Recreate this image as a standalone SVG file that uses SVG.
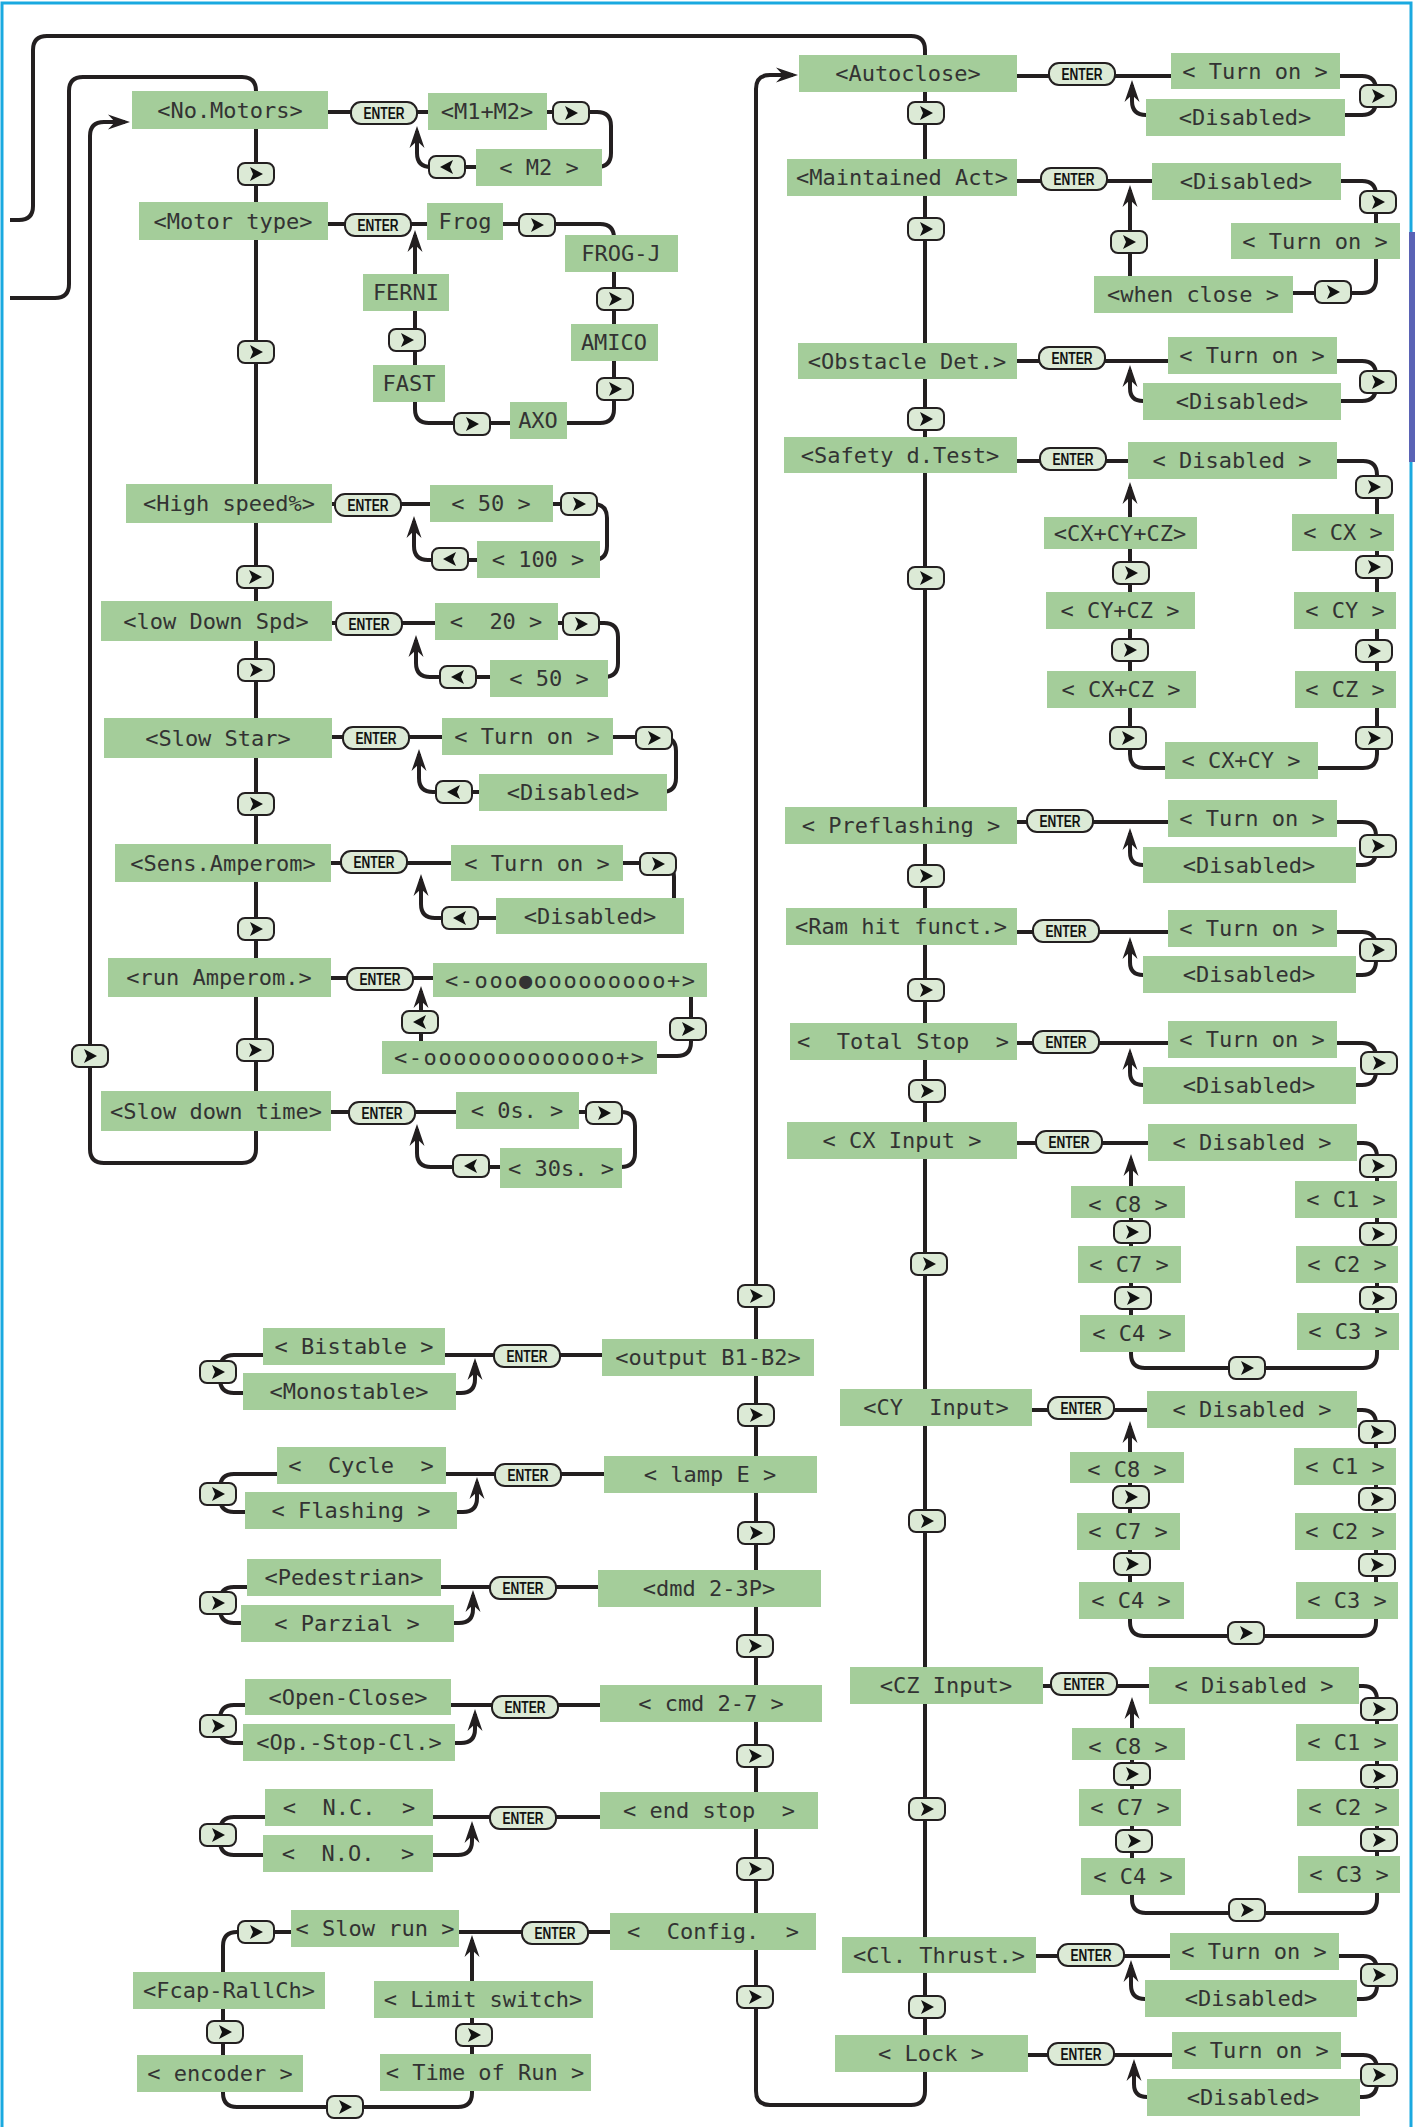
<svg xmlns="http://www.w3.org/2000/svg" width="1415" height="2127" viewBox="0 0 1415 2127">
<style>
.bx{fill:#a4cd9a}
.t{font-family:"DejaVu Sans Mono","Liberation Mono",monospace;font-size:22px;fill:#333333;text-anchor:middle;white-space:pre}
.btn{fill:#dcead6;stroke:#231f20;stroke-width:2}
.chev{fill:#111}
.et{font-family:"Liberation Sans",Arial,sans-serif;font-weight:bold;font-size:16px;fill:#111}
.ln{fill:none;stroke:#231f20;stroke-width:4;stroke-linejoin:round}
.ar{marker-end:url(#ah)}
.frame{fill:none;stroke:#1aa9e0;stroke-width:3}
</style>
<defs>
<marker id="ah" markerUnits="userSpaceOnUse" markerWidth="30" markerHeight="20" viewBox="-20 -10 30 20" refX="0" refY="0" orient="auto">
<path d="M5,0 L-17,-7.5 L-10,0 L-17,7.5 Z" fill="#231f20"/>
</marker>
<g id="bR"><rect x="-18" y="-11" width="36" height="22" rx="7" class="btn"/><path d="M-6,-7 L7,0 L-6,7 L-3,0 Z" class="chev"/></g>
<g id="bL"><rect x="-18" y="-11" width="36" height="22" rx="7" class="btn"/><path d="M6,-7 L-7,0 L6,7 L3,0 Z" class="chev"/></g>
<g id="bE"><rect x="-33" y="-11" width="66" height="22" rx="10" class="btn"/><text x="-20.5" y="6" class="et" textLength="41" lengthAdjust="spacingAndGlyphs">ENTER</text></g>
</defs>
<rect width="1415" height="2127" fill="#ffffff"/>
<path class="frame" d="M2,2127 V3 H1411 V2127"/>
<rect x="1409" y="232" width="6" height="230" fill="#5a63b5"/>

<g id="connectors">
<path class="ln ar" d="M10,220 H19 Q33,220 33,206 V50 Q33,36 47,36 H911 Q925,36 925,50 V2091 Q925,2105 911,2105 H770 Q756,2105 756,2091 V89 Q756,75 770,75 H793"/>
<path class="ln ar" d="M10,298 H55 Q69,298 69,284 V91 Q69,77 83,77 H242 Q256,77 256,91 V1149 Q256,1163 242,1163 H104 Q90,1163 90,1149 V136 Q90,122 104,122 H125"/>

<path class="ln" d="M328,112 H428"/>
<path class="ln" d="M547,112 H597 Q611,112 611,126 V153 Q611,167 597,167 H602"/>
<path class="ln ar" d="M476,167 H431 Q417,167 417,153 V131"/>
<path class="ln" d="M328,224 H427"/>
<path class="ln" d="M503,224 H600 Q614,224 614,238 V409 Q614,423 600,423 H567"/>
<path class="ln ar" d="M510,423 H429 Q415,423 415,409 V235"/>
<path class="ln" d="M332,504 H430"/>
<path class="ln" d="M553,504 H593 Q607,504 607,518 V546 Q607,560 593,560 H600"/>
<path class="ln ar" d="M477,560 H428 Q414,560 414,546 V521"/>
<path class="ln" d="M332,623 H435"/>
<path class="ln" d="M558,623 H604 Q618,623 618,637 V663 Q618,677 604,677 H608"/>
<path class="ln ar" d="M490,677 H430 Q416,677 416,663 V640"/>
<path class="ln" d="M332,737 H442"/>
<path class="ln" d="M613,737 H662 Q676,737 676,751 V778 Q676,792 662,792 H667"/>
<path class="ln ar" d="M479,792 H433 Q419,792 419,778 V754"/>
<path class="ln" d="M331,863 H451"/>
<path class="ln" d="M623,863 H660 Q674,863 674,877 V898"/>
<path class="ln ar" d="M496,918 H435 Q421,918 421,904 V879"/>
<path class="ln" d="M331,978 H433"/>
<path class="ln" d="M691,997 V1042 Q691,1056 677,1056 H657"/>
<path class="ln ar" d="M421,1041 V991"/>
<path class="ln" d="M331,1112 H456"/>
<path class="ln" d="M579,1112 H621 Q635,1112 635,1126 V1153 Q635,1167 621,1167 H622"/>
<path class="ln ar" d="M500,1167 H431 Q417,1167 417,1153 V1129"/>

<path class="ln" d="M1017,76 H1171"/>
<path class="ln" d="M1340,76 H1362 Q1376,76 1376,90 V101 Q1376,115 1362,115 H1345"/>
<path class="ln ar" d="M1146,115 Q1132,115 1132,101 V85"/>
<path class="ln" d="M1017,181 H1152"/>
<path class="ln" d="M1341,181 H1362 Q1376,181 1376,195 V279 Q1376,293 1362,293 H1293"/>
<path class="ln ar" d="M1130,276 V190"/>
<path class="ln" d="M1017,361 H1168"/>
<path class="ln" d="M1337,361 H1362 Q1376,361 1376,375 V387 Q1376,401 1362,401 H1341"/>
<path class="ln ar" d="M1143,401 Q1130,401 1130,388 V370"/>
<path class="ln" d="M1017,461 H1128"/>
<path class="ln" d="M1337,461 H1363 Q1377,461 1377,475 V754 Q1377,768 1363,768 H1318"/>
<path class="ln ar" d="M1165,768 H1144 Q1130,768 1130,754 V487"/>
<path class="ln" d="M1017,822 H1168"/>
<path class="ln" d="M1337,822 H1362 Q1376,822 1376,836 V851 Q1376,865 1362,865 H1356"/>
<path class="ln ar" d="M1143,865 Q1130,865 1130,852 V833"/>
<path class="ln" d="M1017,932 H1168"/>
<path class="ln" d="M1337,932 H1362 Q1376,932 1376,946 V961 Q1376,975 1362,975 H1356"/>
<path class="ln ar" d="M1143,975 Q1130,975 1130,962 V942"/>
<path class="ln" d="M1017,1043 H1168"/>
<path class="ln" d="M1337,1043 H1362 Q1376,1043 1376,1057 V1071 Q1376,1085 1362,1085 H1356"/>
<path class="ln ar" d="M1143,1085 Q1130,1085 1130,1072 V1053"/>
<path class="ln" d="M1017,1143 H1148"/>
<path class="ln ar" d="M1357,1143 H1363 Q1377,1143 1377,1157 V1354 Q1377,1368 1363,1368 H1145 Q1131,1368 1131,1354 V1159"/>
<path class="ln" d="M1032,1410 H1147"/>
<path class="ln ar" d="M1357,1410 H1362 Q1376,1410 1376,1424 V1622 Q1376,1636 1362,1636 H1144 Q1130,1636 1130,1622 V1426"/>
<path class="ln" d="M1043,1686 H1149"/>
<path class="ln ar" d="M1359,1686 H1363 Q1377,1686 1377,1700 V1899 Q1377,1913 1363,1913 H1146 Q1132,1913 1132,1899 V1702"/>
<path class="ln" d="M1036,1956 H1170"/>
<path class="ln" d="M1339,1956 H1363 Q1377,1956 1377,1970 V1985 Q1377,1999 1363,1999 H1357"/>
<path class="ln ar" d="M1145,1999 Q1131,1999 1131,1985 V1965"/>
<path class="ln" d="M1028,2055 H1172"/>
<path class="ln" d="M1341,2055 H1363 Q1377,2055 1377,2069 V2083 Q1377,2097 1363,2097 H1360"/>
<path class="ln ar" d="M1147,2097 Q1134,2097 1134,2084 V2064"/>

<path class="ln" d="M602,1355 H445"/>
<path class="ln" d="M263,1355 H234 Q220,1355 220,1369 V1379 Q220,1393 234,1393 H243"/>
<path class="ln ar" d="M456,1393 H461 Q475,1393 475,1379 V1363"/>
<path class="ln" d="M604,1474 H446"/>
<path class="ln" d="M277,1474 H234 Q220,1474 220,1488 V1498 Q220,1512 234,1512 H245"/>
<path class="ln ar" d="M457,1512 H463 Q477,1512 477,1498 V1482"/>
<path class="ln" d="M598,1587 H441"/>
<path class="ln" d="M247,1587 H234 Q220,1587 220,1601 V1609 Q220,1623 234,1623 H241"/>
<path class="ln ar" d="M454,1623 H459 Q473,1623 473,1609 V1595"/>
<path class="ln" d="M600,1705 H451"/>
<path class="ln" d="M245,1705 H234 Q220,1705 220,1719 V1729 Q220,1743 234,1743 H243"/>
<path class="ln ar" d="M455,1743 H461 Q475,1743 475,1729 V1714"/>
<path class="ln" d="M600,1817 H433"/>
<path class="ln" d="M265,1817 H234 Q220,1817 220,1831 V1841 Q220,1855 234,1855 H263"/>
<path class="ln ar" d="M433,1855 H458 Q472,1855 472,1841 V1826"/>
<path class="ln" d="M610,1932 H459"/>
<path class="ln ar" d="M291,1932 H237 Q223,1932 223,1946 V2093 Q223,2107 237,2107 H458 Q472,2107 472,2093 V1940"/>
</g>

<g id="keys">
<use href="#bR" x="256" y="174"/><use href="#bR" x="256" y="352"/><use href="#bR" x="255" y="577"/><use href="#bR" x="256" y="670"/><use href="#bR" x="256" y="804"/><use href="#bR" x="256" y="929"/><use href="#bR" x="255" y="1050"/><use href="#bR" x="90" y="1056"/>
<use href="#bR" x="571" y="113"/><use href="#bL" x="447" y="167"/>
<use href="#bR" x="537" y="225"/><use href="#bR" x="615" y="299"/><use href="#bR" x="615" y="389"/><use href="#bR" x="472" y="424"/><use href="#bR" x="407" y="340"/>
<use href="#bR" x="579" y="504"/><use href="#bL" x="450" y="559"/>
<use href="#bR" x="581" y="624"/><use href="#bL" x="458" y="677"/>
<use href="#bR" x="654" y="738"/><use href="#bL" x="454" y="792"/>
<use href="#bR" x="658" y="864"/><use href="#bL" x="460" y="918"/>
<use href="#bR" x="688" y="1029"/><use href="#bL" x="420" y="1022"/>
<use href="#bR" x="604" y="1113"/><use href="#bL" x="471" y="1166"/>
<use href="#bE" x="384" y="113"/><use href="#bE" x="378" y="225"/><use href="#bE" x="368" y="505"/><use href="#bE" x="369" y="624"/><use href="#bE" x="376" y="738"/><use href="#bE" x="374" y="862"/><use href="#bE" x="380" y="979"/><use href="#bE" x="382" y="1113"/>

<use href="#bE" x="1082" y="74"/><use href="#bE" x="1074" y="179"/><use href="#bE" x="1072" y="358"/><use href="#bE" x="1073" y="459"/><use href="#bE" x="1060" y="821"/><use href="#bE" x="1066" y="931"/><use href="#bE" x="1066" y="1042"/><use href="#bE" x="1069" y="1142"/><use href="#bE" x="1081" y="1408"/><use href="#bE" x="1084" y="1684"/><use href="#bE" x="1091" y="1955"/><use href="#bE" x="1081" y="2054"/>
<use href="#bR" x="926" y="113"/><use href="#bR" x="926" y="229"/><use href="#bR" x="926" y="419"/><use href="#bR" x="926" y="578"/><use href="#bR" x="926" y="876"/><use href="#bR" x="926" y="990"/><use href="#bR" x="927" y="1091"/><use href="#bR" x="929" y="1264"/><use href="#bR" x="927" y="1521"/><use href="#bR" x="927" y="1809"/><use href="#bR" x="927" y="2007"/>
<use href="#bR" x="1378" y="96"/><use href="#bR" x="1378" y="202"/><use href="#bR" x="1333" y="292"/><use href="#bR" x="1129" y="242"/><use href="#bR" x="1378" y="382"/>
<use href="#bR" x="1374" y="487"/><use href="#bR" x="1374" y="567"/><use href="#bR" x="1374" y="651"/><use href="#bR" x="1374" y="738"/><use href="#bR" x="1131" y="573"/><use href="#bR" x="1130" y="650"/><use href="#bR" x="1128" y="738"/>
<use href="#bR" x="1378" y="846"/><use href="#bR" x="1378" y="950"/><use href="#bR" x="1379" y="1063"/>
<use href="#bR" x="1378" y="1166"/><use href="#bR" x="1378" y="1234"/><use href="#bR" x="1378" y="1298"/><use href="#bR" x="1132" y="1232"/><use href="#bR" x="1133" y="1298"/><use href="#bR" x="1247" y="1368"/>
<use href="#bR" x="1377" y="1432"/><use href="#bR" x="1377" y="1499"/><use href="#bR" x="1377" y="1565"/><use href="#bR" x="1131" y="1497"/><use href="#bR" x="1132" y="1564"/><use href="#bR" x="1246" y="1633"/>
<use href="#bR" x="1379" y="1709"/><use href="#bR" x="1379" y="1776"/><use href="#bR" x="1379" y="1840"/><use href="#bR" x="1132" y="1774"/><use href="#bR" x="1134" y="1841"/><use href="#bR" x="1247" y="1910"/>
<use href="#bR" x="1379" y="1975"/><use href="#bR" x="1379" y="2075"/>

<use href="#bR" x="756" y="1296"/><use href="#bR" x="756" y="1415"/><use href="#bR" x="756" y="1533"/><use href="#bR" x="755" y="1646"/><use href="#bR" x="755" y="1756"/><use href="#bR" x="755" y="1869"/><use href="#bR" x="755" y="1997"/>
<use href="#bE" x="527" y="1356"/><use href="#bE" x="528" y="1475"/><use href="#bE" x="523" y="1588"/><use href="#bE" x="525" y="1707"/><use href="#bE" x="523" y="1818"/><use href="#bE" x="555" y="1933"/>
<use href="#bR" x="218" y="1372"/><use href="#bR" x="218" y="1494"/><use href="#bR" x="218" y="1603"/><use href="#bR" x="218" y="1726"/><use href="#bR" x="218" y="1835"/>
<use href="#bR" x="256" y="1932"/><use href="#bR" x="225" y="2032"/><use href="#bR" x="345" y="2107"/><use href="#bR" x="474" y="2035"/>
</g>

<g id="n-no-motors"><rect class="bx" x="132" y="91" width="196" height="38"/><text class="t" x="230" y="118">&lt;No.Motors&gt;</text></g>
<g id="n-m1m2"><rect class="bx" x="428" y="93" width="119" height="37"/><text class="t" x="487" y="119">&lt;M1+M2&gt;</text></g>
<g id="n-m2"><rect class="bx" x="476" y="149" width="126" height="37"/><text class="t" x="539" y="175">&lt; M2 &gt;</text></g>
<g id="n-motor-type"><rect class="bx" x="139" y="202" width="189" height="38"/><text class="t" x="233" y="229">&lt;Motor type&gt;</text></g>
<g id="n-frog"><rect class="bx" x="427" y="203" width="76" height="37"/><text class="t" x="465" y="229">Frog</text></g>
<g id="n-frog-j"><rect class="bx" x="565" y="235" width="113" height="37"/><text class="t" x="621" y="261">FROG-J</text></g>
<g id="n-amico"><rect class="bx" x="571" y="324" width="87" height="37"/><text class="t" x="614" y="350">AMICO</text></g>
<g id="n-axo"><rect class="bx" x="510" y="402" width="57" height="37"/><text class="t" x="538" y="428">AXO</text></g>
<g id="n-fast"><rect class="bx" x="373" y="365" width="72" height="37"/><text class="t" x="409" y="391">FAST</text></g>
<g id="n-ferni"><rect class="bx" x="363" y="274" width="86" height="37"/><text class="t" x="406" y="300">FERNI</text></g>
<g id="n-high-speed"><rect class="bx" x="126" y="484" width="206" height="39"/><text class="t" x="229" y="511">&lt;High speed%&gt;</text></g>
<g id="n-hs-50"><rect class="bx" x="430" y="485" width="123" height="37"/><text class="t" x="491" y="511">&lt; 50 &gt;</text></g>
<g id="n-hs-100"><rect class="bx" x="477" y="541" width="123" height="37"/><text class="t" x="538" y="567">&lt; 100 &gt;</text></g>
<g id="n-low-down"><rect class="bx" x="101" y="601" width="231" height="40"/><text class="t" x="216" y="629">&lt;low Down Spd&gt;</text></g>
<g id="n-ld-20"><rect class="bx" x="435" y="603" width="123" height="37"/><text class="t" x="496" y="629">&lt;  20 &gt;</text></g>
<g id="n-ld-50"><rect class="bx" x="490" y="660" width="118" height="37"/><text class="t" x="549" y="686">&lt; 50 &gt;</text></g>
<g id="n-slow-star"><rect class="bx" x="104" y="718" width="228" height="40"/><text class="t" x="218" y="746">&lt;Slow Star&gt;</text></g>
<g id="n-ss-on"><rect class="bx" x="442" y="718" width="171" height="37"/><text class="t" x="527" y="744">&lt; Turn on &gt;</text></g>
<g id="n-ss-dis"><rect class="bx" x="479" y="774" width="188" height="37"/><text class="t" x="573" y="800">&lt;Disabled&gt;</text></g>
<g id="n-sens"><rect class="bx" x="115" y="844" width="216" height="38"/><text class="t" x="223" y="871">&lt;Sens.Amperom&gt;</text></g>
<g id="n-se-on"><rect class="bx" x="451" y="845" width="172" height="36"/><text class="t" x="537" y="871">&lt; Turn on &gt;</text></g>
<g id="n-se-dis"><rect class="bx" x="496" y="898" width="188" height="36"/><text class="t" x="590" y="924">&lt;Disabled&gt;</text></g>
<g id="n-run-amp"><rect class="bx" x="108" y="958" width="223" height="39"/><text class="t" x="219" y="985">&lt;run Amperom.&gt;</text></g>
<g id="n-ra-1"><rect class="bx" x="433" y="963" width="274" height="34"/><text class="t" x="570" y="988" textLength="250" lengthAdjust="spacing">&lt;-ooo●ooooooooo+&gt;</text></g>
<g id="n-ra-2"><rect class="bx" x="382" y="1041" width="275" height="33"/><text class="t" x="519" y="1065" textLength="250" lengthAdjust="spacing">&lt;-ooooooooooooo+&gt;</text></g>
<g id="n-slow-down"><rect class="bx" x="101" y="1091" width="230" height="40"/><text class="t" x="216" y="1119">&lt;Slow down time&gt;</text></g>
<g id="n-sd-0"><rect class="bx" x="456" y="1092" width="123" height="37"/><text class="t" x="517" y="1118">&lt; 0s. &gt;</text></g>
<g id="n-sd-30"><rect class="bx" x="500" y="1148" width="122" height="40"/><text class="t" x="561" y="1176">&lt; 30s. &gt;</text></g>

<g id="n-autoclose"><rect class="bx" x="799" y="55" width="218" height="37"/><text class="t" x="908" y="81">&lt;Autoclose&gt;</text></g>
<g id="n-ac-on"><rect class="bx" x="1171" y="53" width="169" height="36"/><text class="t" x="1255" y="79">&lt; Turn on &gt;</text></g>
<g id="n-ac-dis"><rect class="bx" x="1146" y="99" width="199" height="37"/><text class="t" x="1245" y="125">&lt;Disabled&gt;</text></g>
<g id="n-maint"><rect class="bx" x="787" y="159" width="230" height="37"/><text class="t" x="902" y="185">&lt;Maintained Act&gt;</text></g>
<g id="n-ma-dis"><rect class="bx" x="1152" y="163" width="189" height="37"/><text class="t" x="1246" y="189">&lt;Disabled&gt;</text></g>
<g id="n-ma-on"><rect class="bx" x="1231" y="223" width="169" height="36"/><text class="t" x="1315" y="249">&lt; Turn on &gt;</text></g>
<g id="n-ma-when"><rect class="bx" x="1094" y="276" width="199" height="37"/><text class="t" x="1193" y="302">&lt;when close &gt;</text></g>
<g id="n-obstacle"><rect class="bx" x="798" y="343" width="219" height="36"/><text class="t" x="907" y="369">&lt;Obstacle Det.&gt;</text></g>
<g id="n-ob-on"><rect class="bx" x="1168" y="337" width="169" height="37"/><text class="t" x="1252" y="363">&lt; Turn on &gt;</text></g>
<g id="n-ob-dis"><rect class="bx" x="1143" y="383" width="198" height="37"/><text class="t" x="1242" y="409">&lt;Disabled&gt;</text></g>
<g id="n-safety"><rect class="bx" x="784" y="437" width="233" height="36"/><text class="t" x="900" y="463">&lt;Safety d.Test&gt;</text></g>
<g id="n-sa-dis"><rect class="bx" x="1128" y="442" width="209" height="37"/><text class="t" x="1232" y="468">&lt; Disabled &gt;</text></g>
<g id="n-cxcycz"><rect class="bx" x="1044" y="517" width="153" height="32"/><text class="t" x="1120" y="541">&lt;CX+CY+CZ&gt;</text></g>
<g id="n-cycz"><rect class="bx" x="1046" y="592" width="149" height="37"/><text class="t" x="1120" y="618">&lt; CY+CZ &gt;</text></g>
<g id="n-cxcz"><rect class="bx" x="1047" y="671" width="149" height="37"/><text class="t" x="1121" y="697">&lt; CX+CZ &gt;</text></g>
<g id="n-cxcy"><rect class="bx" x="1165" y="742" width="153" height="37"/><text class="t" x="1241" y="768">&lt; CX+CY &gt;</text></g>
<g id="n-cx"><rect class="bx" x="1292" y="514" width="102" height="37"/><text class="t" x="1343" y="540">&lt; CX &gt;</text></g>
<g id="n-cy"><rect class="bx" x="1294" y="592" width="102" height="37"/><text class="t" x="1345" y="618">&lt; CY &gt;</text></g>
<g id="n-cz"><rect class="bx" x="1295" y="671" width="101" height="37"/><text class="t" x="1345" y="697">&lt; CZ &gt;</text></g>
<g id="n-preflashing"><rect class="bx" x="785" y="807" width="232" height="37"/><text class="t" x="901" y="833">&lt; Preflashing &gt;</text></g>
<g id="n-pr-on"><rect class="bx" x="1168" y="800" width="169" height="37"/><text class="t" x="1252" y="826">&lt; Turn on &gt;</text></g>
<g id="n-pr-dis"><rect class="bx" x="1143" y="847" width="213" height="36"/><text class="t" x="1249" y="873">&lt;Disabled&gt;</text></g>
<g id="n-ram"><rect class="bx" x="786" y="908" width="231" height="37"/><text class="t" x="901" y="934">&lt;Ram hit funct.&gt;</text></g>
<g id="n-ram-on"><rect class="bx" x="1168" y="910" width="169" height="37"/><text class="t" x="1252" y="936">&lt; Turn on &gt;</text></g>
<g id="n-ram-dis"><rect class="bx" x="1143" y="956" width="213" height="37"/><text class="t" x="1249" y="982">&lt;Disabled&gt;</text></g>
<g id="n-total"><rect class="bx" x="790" y="1023" width="227" height="37"/><text class="t" x="903" y="1049">&lt;  Total Stop  &gt;</text></g>
<g id="n-to-on"><rect class="bx" x="1168" y="1021" width="169" height="37"/><text class="t" x="1252" y="1047">&lt; Turn on &gt;</text></g>
<g id="n-to-dis"><rect class="bx" x="1143" y="1067" width="213" height="37"/><text class="t" x="1249" y="1093">&lt;Disabled&gt;</text></g>
<g id="n-cx-in"><rect class="bx" x="787" y="1122" width="230" height="37"/><text class="t" x="902" y="1148">&lt; CX Input &gt;</text></g>
<g id="n-cx-dis"><rect class="bx" x="1148" y="1124" width="209" height="37"/><text class="t" x="1252" y="1150">&lt; Disabled &gt;</text></g>
<g id="n-cx-c8"><rect class="bx" x="1071" y="1186" width="114" height="32"/><text class="t" x="1128" y="1212">&lt; C8 &gt;</text></g>
<g id="n-cx-c7"><rect class="bx" x="1078" y="1246" width="103" height="37"/><text class="t" x="1129" y="1272">&lt; C7 &gt;</text></g>
<g id="n-cx-c4"><rect class="bx" x="1080" y="1315" width="105" height="37"/><text class="t" x="1132" y="1341">&lt; C4 &gt;</text></g>
<g id="n-cx-c1"><rect class="bx" x="1295" y="1181" width="102" height="37"/><text class="t" x="1346" y="1207">&lt; C1 &gt;</text></g>
<g id="n-cx-c2"><rect class="bx" x="1296" y="1246" width="102" height="37"/><text class="t" x="1347" y="1272">&lt; C2 &gt;</text></g>
<g id="n-cx-c3"><rect class="bx" x="1297" y="1313" width="102" height="37"/><text class="t" x="1348" y="1339">&lt; C3 &gt;</text></g>
<g id="n-cy-in"><rect class="bx" x="840" y="1389" width="192" height="37"/><text class="t" x="936" y="1415">&lt;CY  Input&gt;</text></g>
<g id="n-cy-dis"><rect class="bx" x="1147" y="1391" width="210" height="37"/><text class="t" x="1252" y="1417">&lt; Disabled &gt;</text></g>
<g id="n-cy-c8"><rect class="bx" x="1070" y="1452" width="114" height="31"/><text class="t" x="1127" y="1477">&lt; C8 &gt;</text></g>
<g id="n-cy-c7"><rect class="bx" x="1077" y="1513" width="103" height="37"/><text class="t" x="1128" y="1539">&lt; C7 &gt;</text></g>
<g id="n-cy-c4"><rect class="bx" x="1079" y="1582" width="105" height="37"/><text class="t" x="1131" y="1608">&lt; C4 &gt;</text></g>
<g id="n-cy-c1"><rect class="bx" x="1294" y="1448" width="102" height="37"/><text class="t" x="1345" y="1474">&lt; C1 &gt;</text></g>
<g id="n-cy-c2"><rect class="bx" x="1295" y="1513" width="101" height="37"/><text class="t" x="1345" y="1539">&lt; C2 &gt;</text></g>
<g id="n-cy-c3"><rect class="bx" x="1296" y="1582" width="102" height="37"/><text class="t" x="1347" y="1608">&lt; C3 &gt;</text></g>
<g id="n-cz-in"><rect class="bx" x="850" y="1667" width="193" height="37"/><text class="t" x="946" y="1693">&lt;CZ Input&gt;</text></g>
<g id="n-cz-dis"><rect class="bx" x="1149" y="1667" width="210" height="37"/><text class="t" x="1254" y="1693">&lt; Disabled &gt;</text></g>
<g id="n-cz-c8"><rect class="bx" x="1072" y="1728" width="113" height="32"/><text class="t" x="1128" y="1754">&lt; C8 &gt;</text></g>
<g id="n-cz-c7"><rect class="bx" x="1079" y="1789" width="102" height="37"/><text class="t" x="1130" y="1815">&lt; C7 &gt;</text></g>
<g id="n-cz-c4"><rect class="bx" x="1081" y="1858" width="104" height="37"/><text class="t" x="1133" y="1884">&lt; C4 &gt;</text></g>
<g id="n-cz-c1"><rect class="bx" x="1296" y="1724" width="102" height="37"/><text class="t" x="1347" y="1750">&lt; C1 &gt;</text></g>
<g id="n-cz-c2"><rect class="bx" x="1297" y="1789" width="102" height="37"/><text class="t" x="1348" y="1815">&lt; C2 &gt;</text></g>
<g id="n-cz-c3"><rect class="bx" x="1298" y="1856" width="102" height="37"/><text class="t" x="1349" y="1882">&lt; C3 &gt;</text></g>
<g id="n-thrust"><rect class="bx" x="842" y="1937" width="194" height="36"/><text class="t" x="939" y="1963">&lt;Cl. Thrust.&gt;</text></g>
<g id="n-th-on"><rect class="bx" x="1170" y="1933" width="169" height="37"/><text class="t" x="1254" y="1959">&lt; Turn on &gt;</text></g>
<g id="n-th-dis"><rect class="bx" x="1145" y="1980" width="212" height="37"/><text class="t" x="1251" y="2006">&lt;Disabled&gt;</text></g>
<g id="n-lock"><rect class="bx" x="835" y="2035" width="193" height="37"/><text class="t" x="931" y="2061">&lt; Lock &gt;</text></g>
<g id="n-lo-on"><rect class="bx" x="1172" y="2032" width="169" height="37"/><text class="t" x="1256" y="2058">&lt; Turn on &gt;</text></g>
<g id="n-lo-dis"><rect class="bx" x="1147" y="2079" width="213" height="37"/><text class="t" x="1253" y="2105">&lt;Disabled&gt;</text></g>

<g id="n-output"><rect class="bx" x="602" y="1339" width="212" height="37"/><text class="t" x="708" y="1365">&lt;output B1-B2&gt;</text></g>
<g id="n-bistable"><rect class="bx" x="263" y="1328" width="182" height="37"/><text class="t" x="354" y="1354">&lt; Bistable &gt;</text></g>
<g id="n-monostable"><rect class="bx" x="243" y="1373" width="213" height="37"/><text class="t" x="349" y="1399">&lt;Monostable&gt;</text></g>
<g id="n-lamp"><rect class="bx" x="604" y="1456" width="213" height="37"/><text class="t" x="710" y="1482">&lt; lamp E &gt;</text></g>
<g id="n-cycle"><rect class="bx" x="277" y="1447" width="169" height="37"/><text class="t" x="361" y="1473">&lt;  Cycle  &gt;</text></g>
<g id="n-flashing"><rect class="bx" x="245" y="1492" width="212" height="37"/><text class="t" x="351" y="1518">&lt; Flashing &gt;</text></g>
<g id="n-dmd"><rect class="bx" x="598" y="1570" width="223" height="37"/><text class="t" x="709" y="1596">&lt;dmd 2-3P&gt;</text></g>
<g id="n-pedestrian"><rect class="bx" x="247" y="1559" width="194" height="37"/><text class="t" x="344" y="1585">&lt;Pedestrian&gt;</text></g>
<g id="n-parzial"><rect class="bx" x="241" y="1605" width="213" height="37"/><text class="t" x="347" y="1631">&lt; Parzial &gt;</text></g>
<g id="n-cmd"><rect class="bx" x="600" y="1685" width="222" height="37"/><text class="t" x="711" y="1711">&lt; cmd 2-7 &gt;</text></g>
<g id="n-open-close"><rect class="bx" x="245" y="1679" width="206" height="36"/><text class="t" x="348" y="1705">&lt;Open-Close&gt;</text></g>
<g id="n-op-stop"><rect class="bx" x="243" y="1724" width="212" height="37"/><text class="t" x="349" y="1750">&lt;Op.-Stop-Cl.&gt;</text></g>
<g id="n-end-stop"><rect class="bx" x="600" y="1792" width="218" height="37"/><text class="t" x="709" y="1818">&lt; end stop  &gt;</text></g>
<g id="n-nc"><rect class="bx" x="265" y="1789" width="168" height="37"/><text class="t" x="349" y="1815">&lt;  N.C.  &gt;</text></g>
<g id="n-no"><rect class="bx" x="263" y="1835" width="170" height="37"/><text class="t" x="348" y="1861">&lt;  N.O.  &gt;</text></g>
<g id="n-config"><rect class="bx" x="610" y="1913" width="206" height="37"/><text class="t" x="713" y="1939">&lt;  Config.  &gt;</text></g>
<g id="n-slow-run"><rect class="bx" x="291" y="1910" width="168" height="37"/><text class="t" x="375" y="1936">&lt; Slow run &gt;</text></g>
<g id="n-fcap"><rect class="bx" x="133" y="1972" width="192" height="37"/><text class="t" x="229" y="1998">&lt;Fcap-RallCh&gt;</text></g>
<g id="n-encoder"><rect class="bx" x="137" y="2055" width="166" height="37"/><text class="t" x="220" y="2081">&lt; encoder &gt;</text></g>
<g id="n-limit"><rect class="bx" x="374" y="1981" width="219" height="37"/><text class="t" x="483" y="2007">&lt; Limit switch&gt;</text></g>
<g id="n-time-run"><rect class="bx" x="380" y="2054" width="211" height="37"/><text class="t" x="485" y="2080">&lt; Time of Run &gt;</text></g>
</svg>
